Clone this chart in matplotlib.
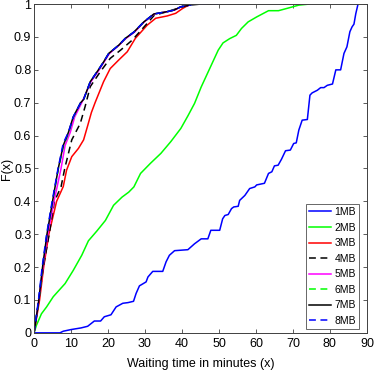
import matplotlib
matplotlib.use("Agg")
import matplotlib.pyplot as plt

plt.rcParams['font.family'] = ['Liberation Sans', 'DejaVu Sans']

labels = ['1MB', '2MB', '3MB', '4MB', '5MB', '6MB', '7MB', '8MB']

x1 = [0, 7, 7.9, 10, 12.7, 14.5, 16.3, 18, 19, 20.8, 22.2, 24, 25.4, 26.9, 27.6, 28.5, 30.3, 30.8, 32.1,
      34.8, 35.7, 36.6, 38, 41.6, 43.4, 45.2, 47, 47.8, 50.2, 51, 51.6, 52.5, 53.4, 54, 55.2, 55.6, 57,
      58.3, 59.7, 60.2, 62.3, 63.4, 64.3, 65, 66, 66.9, 68, 69.3, 70.2, 70.9, 71.6, 72.5, 73.9, 74.6,
      75.2, 76.6, 77.5, 78.4, 79.3, 80.7, 81.6, 82.9, 83.8, 84.6, 85.4, 86, 86.5, 87, 87.6]
y1 = [0, 0, 0.005, 0.01, 0.015, 0.02, 0.036, 0.036, 0.049, 0.055, 0.079, 0.09, 0.092, 0.096, 0.12, 0.143,
      0.155, 0.17, 0.187, 0.187, 0.216, 0.236, 0.25, 0.253, 0.271, 0.286, 0.286, 0.312, 0.312, 0.347,
      0.357, 0.36, 0.378, 0.383, 0.385, 0.403, 0.418, 0.439, 0.444, 0.45, 0.455, 0.485, 0.49, 0.508,
      0.51, 0.528, 0.554, 0.556, 0.576, 0.578, 0.617, 0.647, 0.649, 0.723, 0.73, 0.738, 0.746, 0.746,
      0.753, 0.757, 0.8, 0.8, 0.85, 0.87, 0.916, 0.931, 0.939, 0.971, 1.0]

x2 = [0, 0.65, 2, 3.4, 5.2, 8.4, 10.6, 12.9, 14.7, 17, 19.3, 21.5, 23.8, 25.6, 27, 28.8, 31.5, 34.3, 37,
      39.7, 41.6, 43.4, 45.2, 47.5, 49.8, 51.1, 52.9, 54.7, 56.1, 57.9, 60.2, 63.4, 66.1, 68.4, 71.6, 74.3]
y2 = [0, 0.023, 0.058, 0.079, 0.11, 0.15, 0.19, 0.236, 0.28, 0.31, 0.342, 0.388, 0.413, 0.428, 0.444,
      0.485, 0.516, 0.546, 0.582, 0.622, 0.66, 0.698, 0.748, 0.804, 0.86, 0.882, 0.895, 0.905, 0.926,
      0.946, 0.961, 0.98, 0.98, 0.987, 0.997, 1.0]

x3 = [0, 1.5, 2.6, 4.0, 6.1, 7.9, 8.8, 10.2, 12, 13.4, 14.5, 15.5, 16.5, 18.8, 20.6, 22.9, 25.2, 27.4,
      30.6, 32.9, 36, 38.3, 40.2, 41.5, 42.2]
y3 = [0, 0.1, 0.2, 0.3, 0.4, 0.445, 0.495, 0.536, 0.561, 0.587, 0.63, 0.67, 0.70, 0.764, 0.804, 0.83,
      0.855, 0.896, 0.936, 0.957, 0.964, 0.972, 0.987, 0.995, 1.0]

x4 = [0, 1.3, 2.5, 4.1, 5.5, 7.3, 8.3, 10.2, 12.5, 13.8, 15.2, 17.9, 20.6, 23.4, 26.5, 29.7, 32.5, 36,
      39.7, 42, 45]
y4 = [0, 0.1, 0.2, 0.3, 0.4, 0.444, 0.5, 0.587, 0.637, 0.688, 0.749, 0.794, 0.835, 0.86, 0.89, 0.93,
      0.966, 0.977, 0.99, 0.997, 1.0]

x5 = [0, 1.3, 2.4, 3.7, 5.4, 7.3, 8.4, 9.8, 11.0, 12.9, 15.4, 17.6, 20.4, 23.0, 24.9, 27.2, 29.8, 32.5,
      36, 38, 39.8, 41.5, 43]
y5 = [0, 0.1, 0.2, 0.3, 0.4, 0.5, 0.57, 0.61, 0.657, 0.70, 0.764, 0.80, 0.85, 0.875, 0.896, 0.915,
      0.946, 0.97, 0.977, 0.982, 0.992, 0.995, 1.0]

x6 = [0, 1.3, 2.3, 3.5, 5.0, 6.6, 8.0, 9.4, 10.7, 12.6, 13.4, 15.2, 17.4, 18.8, 20.2, 22.9, 24.7, 27,
      29.7, 32.4, 36, 37.9, 39.7, 41.4, 43]
y6 = [0, 0.1, 0.2, 0.3, 0.4, 0.5, 0.57, 0.61, 0.657, 0.70, 0.71, 0.764, 0.80, 0.824, 0.85, 0.875, 0.896,
      0.915, 0.946, 0.97, 0.977, 0.982, 0.992, 0.995, 1.0]

x7 = [0, 1.3, 2.3, 3.5, 5.0, 6.55, 7.9, 9.3, 10.6, 12.6, 13.4, 15.2, 17.4, 18.8, 20.2, 22.9, 24.7, 27,
      29.7, 32.4, 36, 37.9, 39.7, 41.4, 43, 48]
y7 = [0, 0.1, 0.2, 0.3, 0.4, 0.5, 0.57, 0.61, 0.657, 0.70, 0.71, 0.764, 0.80, 0.824, 0.85, 0.875, 0.896,
      0.915, 0.946, 0.97, 0.977, 0.982, 0.992, 0.995, 1.0, 1.0]

x8 = [0, 1.2, 2.2, 3.4, 4.9, 6.5, 7.9, 9.3, 10.6, 12.6, 13.4, 15.2, 17.4, 18.8, 20.2, 22.9, 24.7, 27,
      29.7, 32.4, 36, 37.9, 39.7, 41.4, 43, 50]
y8 = [0, 0.1, 0.2, 0.3, 0.4, 0.5, 0.577, 0.61, 0.657, 0.70, 0.71, 0.764, 0.80, 0.824, 0.85, 0.875, 0.896,
      0.915, 0.946, 0.97, 0.977, 0.982, 0.992, 0.995, 1.0, 1.0]

xticks = [0, 10, 20, 30, 40, 50, 60, 70, 80, 90]
yticks = [0, 0.1, 0.2, 0.3, 0.4, 0.5, 0.6, 0.7, 0.8, 0.9, 1]
yticklabels = ['0', '0.1', '0.2', '0.3', '0.4', '0.5', '0.6', '0.7', '0.8', '0.9', '1']

fig = plt.figure(figsize=(3.74, 3.74), dpi=100)
ax = fig.add_axes([0.091, 0.110, 0.890, 0.879])

series = [(x1, y1, '#0000ff', '-'), (x2, y2, '#00ff00', '-'), (x3, y3, '#ff0000', '-'),
          (x4, y4, '#000000', '--'), (x5, y5, '#ff00ff', '-'), (x6, y6, '#00ff00', '--'),
          (x7, y7, '#000000', '-'), (x8, y8, '#0000ff', '--')]
for (xs, ys, c, ls), lab in zip(series, labels):
    if ls == '--':
        ax.plot(xs, ys, color=c, linewidth=1.1, label=lab, dashes=(4.5, 3))
    else:
        ax.plot(xs, ys, color=c, linewidth=1.1, label=lab)

ax.set_xlim(0, 90)
ax.set_ylim(0, 1)
ax.set_xticks(xticks)
ax.set_yticks(yticks)
ax.set_yticklabels(yticklabels)
ax.tick_params(direction='in', length=3, width=0.6, top=True, right=True, labelsize=9,
               color='#404040')
ax.tick_params(axis='x', pad=4)
ax.tick_params(axis='y', pad=2)
for sp in ax.spines.values():
    sp.set_color('#404040')
    sp.set_linewidth(0.7)
ax.set_xlabel('Waiting time in minutes (x)', fontsize=9)
ax.set_ylabel('F(x)', fontsize=9)
ax.yaxis.set_label_coords(-0.062, 0.5)
ax.xaxis.set_label_coords(0.5, -0.075)

leg = ax.legend(loc='lower right', bbox_to_anchor=(0.976, 0.012), fontsize=7.5, frameon=True,
                fancybox=False, handlelength=2.1, borderpad=0.3, labelspacing=0.53,
                handletextpad=0.3, borderaxespad=0)
leg.get_frame().set_edgecolor('#404040')
leg.get_frame().set_linewidth(0.7)

fig.savefig('out.png', dpi=100)
